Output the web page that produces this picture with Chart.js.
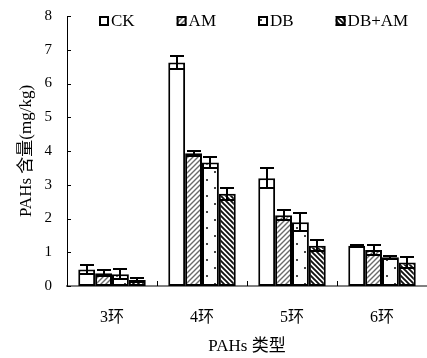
<!DOCTYPE html>
<html><head><meta charset="utf-8">
<script src="https://cdn.jsdelivr.net/npm/chart.js@4/dist/chart.umd.min.js"></script>
<style>html,body{margin:0;padding:0;background:#fff}#wrap{width:427px;height:358px;position:relative}</style>
</head><body><div id="wrap"><canvas id="c" width="427" height="358"></canvas></div>
<script>
// ---- data ----
const categories = ['3环', '4环', '5环', '6环'];
const seriesNames = ['CK', 'AM', 'DB', 'DB+AM'];
const ckValues   = [0.49, 6.62, 3.19, 1.19];
const ckErrors   = [0.12, 0.20, 0.30, 0.02];
const amValues   = [0.38, 3.93, 2.10, 1.07];
const amErrors   = [0.08, 0.08, 0.15, 0.15];
const dbValues   = [0.35, 3.66, 1.89, 0.85];
const dbErrors   = [0.15, 0.16, 0.26, 0.05];
const dbamValues = [0.18, 2.73, 1.19, 0.70];
const dbamErrors = [0.06, 0.18, 0.16, 0.17];
const yTickLabels = ['0', '1', '2', '3', '4', '5', '6', '7', '8'];
const xTitle = 'PAHs 类型';
const yTitle = 'PAHs 含量(mg/kg)';

const SERIF = '"Liberation Serif", "Times New Roman", "Noto Sans CJK SC", serif';
const mainCtx = document.getElementById('c').getContext('2d');

// ---- patterns ----
function makePattern(kind) {
  const c = document.createElement('canvas');
  const ctx = c.getContext('2d');
  if (kind === 'white') {
    c.width = c.height = 4;
    ctx.fillStyle = '#fff'; ctx.fillRect(0, 0, 4, 4);
  } else if (kind === 'slash') {
    const s = 5; c.width = c.height = s;
    ctx.fillStyle = '#fff'; ctx.fillRect(0, 0, s, s);
    ctx.strokeStyle = '#6a6a6a'; ctx.lineWidth = 1.4;
    ctx.beginPath();
    ctx.moveTo(-1, s + 1); ctx.lineTo(s + 1, -1);
    ctx.moveTo(-1, 1); ctx.lineTo(1, -1);
    ctx.moveTo(s - 1, s + 1); ctx.lineTo(s + 1, s - 1);
    ctx.stroke();
  } else if (kind === 'backslash') {
    const s = 5; c.width = c.height = s;
    ctx.fillStyle = '#fff'; ctx.fillRect(0, 0, s, s);
    ctx.strokeStyle = '#111'; ctx.lineWidth = 1.9;
    ctx.beginPath();
    ctx.moveTo(-1, -1); ctx.lineTo(s + 1, s + 1);
    ctx.moveTo(s - 1, -1); ctx.lineTo(s + 1, 1);
    ctx.moveTo(-1, s - 1); ctx.lineTo(1, s + 1);
    ctx.stroke();
  } else if (kind === 'dots') {
    c.width = 16; c.height = 16;
    ctx.fillStyle = '#fff'; ctx.fillRect(0, 0, 16, 16);
    ctx.fillStyle = '#444';
    ctx.fillRect(4, 3, 2, 2);
    ctx.fillRect(12, 11, 2, 2);
  }
  return mainCtx.createPattern(c, 'repeat');
}

const fills = [makePattern('white'), makePattern('slash'), makePattern('dots'), makePattern('backslash')];
const dotCache = {};
function dotFill(c) {
  const xs = c.chart.scales && c.chart.scales.x;
  if (c.type !== 'data' || !xs) return fills[2];
  const tx = Math.round(xs.getPixelForValue(c.dataIndex));
  if (!dotCache[tx]) {
    const p = makePattern('dots');
    p.setTransform(new DOMMatrix([1, 0, 0, 1, tx, 0]));
    dotCache[tx] = p;
  }
  return dotCache[tx];
}

const valueSets = [ckValues, amValues, dbValues, dbamValues];
const errorSets = [ckErrors, amErrors, dbErrors, dbamErrors];

const datasets = seriesNames.map((name, i) => ({
  label: name,
  data: valueSets[i],
  errors: errorSets[i],
  legendFill: fills[i],
  backgroundColor: i === 2 ? dotFill : fills[i],
  borderColor: '#000',
  borderWidth: 2,
  borderSkipped: false,
  categoryPercentage: 0.75,
  barPercentage: 1.0
}));

// ---- plugins ----
const errorBars = {
  id: 'errorBars',
  afterDatasetsDraw(chart) {
    const ctx = chart.ctx, y = chart.scales.y;
    ctx.save();
    ctx.strokeStyle = '#000'; ctx.lineWidth = 2;
    chart.data.datasets.forEach((ds, di) => {
      const meta = chart.getDatasetMeta(di);
      meta.data.forEach((el, j) => {
        const v = ds.data[j], e = ds.errors[j];
        const yt = Math.round(y.getPixelForValue(v + e));
        const yb = Math.round(y.getPixelForValue(v - e));
        const x = Math.round(el.x);
        ctx.beginPath();
        ctx.moveTo(x, yt); ctx.lineTo(x, yb);
        ctx.moveTo(x - 7, yt); ctx.lineTo(x + 7, yt);
        ctx.moveTo(x - 7, yb); ctx.lineTo(x + 7, yb);
        ctx.stroke();
      });
    });
    ctx.restore();
  }
};

const axisMarks = {
  id: 'axisMarks',
  afterDraw(chart) {
    const ctx = chart.ctx, x = chart.scales.x, y = chart.scales.y, a = chart.chartArea;
    ctx.save();
    ctx.lineWidth = 1; ctx.strokeStyle = '#000';
    ctx.beginPath();
    y.ticks.forEach(t => {
      const py = Math.round(y.getPixelForValue(t.value)) + 0.5;
      ctx.moveTo(a.left, py); ctx.lineTo(a.left + 4, py);
    });
    for (let i = 1; i < categories.length; i++) {
      const px = Math.round((x.getPixelForValue(i - 1) + x.getPixelForValue(i)) / 2) + 0.5;
      ctx.moveTo(px, a.bottom); ctx.lineTo(px, a.bottom - 5);
    }
    ctx.stroke();
    ctx.restore();
  }
};

const customLegend = {
  id: 'customLegend',
  afterDraw(chart) {
    const ctx = chart.ctx;
    ctx.save();
    ctx.font = '17px ' + SERIF;
    ctx.textBaseline = 'middle';
    let cx = 99;
    const cy = 21;
    chart.data.datasets.forEach(ds => {
      ctx.fillStyle = ds.legendFill;
      ctx.fillRect(cx, cy - 5, 10, 10);
      ctx.strokeStyle = '#000'; ctx.lineWidth = 2;
      ctx.strokeRect(cx + 1, cy - 4, 8, 8);
      ctx.fillStyle = '#000';
      ctx.fillText(ds.label, cx + 12, cy + 1);
      cx += 12 + ctx.measureText(ds.label).width + 42;
    });
    ctx.restore();
  }
};

new Chart(document.getElementById('c'), {
  type: 'bar',
  data: { labels: categories, datasets },
  options: {
    responsive: false,
    devicePixelRatio: 1,
    animation: false,
    layout: { padding: { left: 0, right: -5, top: 16, bottom: 0 } },
    plugins: { legend: { display: false }, tooltip: { enabled: false } },
    scales: {
      x: {
        grid: { display: false, drawTicks: false, tickLength: 0 },
        border: { display: true, color: '#808080', width: 2 },
        ticks: { color: '#000', font: { family: SERIF, size: 16 }, padding: 22, maxRotation: 0 },
        title: { display: true, text: xTitle, color: '#000', font: { family: SERIF, size: 17 }, padding: { top: 0, bottom: 1 } },
        afterFit(s) { s.height = 72; s.paddingLeft = 0; s.paddingRight = 0; }
      },
      y: {
        min: 0, max: 8,
        grid: { display: false, drawTicks: false, tickLength: 0 },
        border: { display: true, color: '#000', width: 1 },
        ticks: { stepSize: 1, color: '#000', font: { family: SERIF, size: 15 }, padding: 15,
                 callback: (v, i) => yTickLabels[i] },
        title: { display: true, text: yTitle, color: '#000', font: { family: SERIF, size: 17 }, padding: { top: 16, bottom: 0 } },
        afterFit(s) { s.width = 67; s.paddingTop = 0; s.paddingBottom = 0; }
      }
    }
  },
  plugins: [errorBars, axisMarks, customLegend]
});
</script>
</body></html>
